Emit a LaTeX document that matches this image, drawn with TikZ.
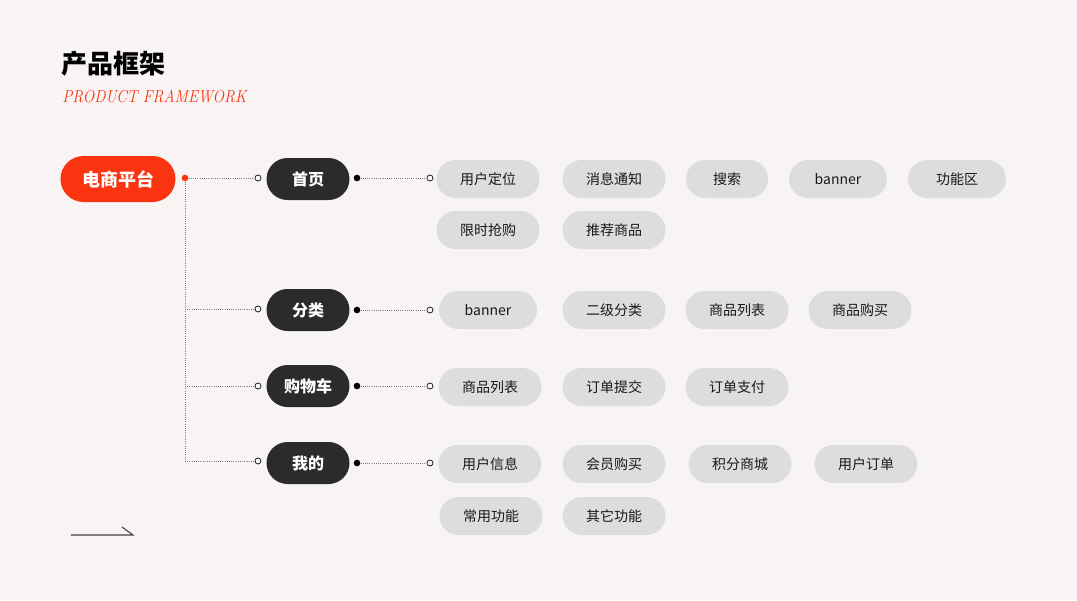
\documentclass[tikz,border=0pt]{standalone}
\usepackage{fontspec}
\newfontfamily\cjk{Noto Sans CJK SC}
\definecolor{bgpink}{RGB}{249,244,244}
\definecolor{brandred}{RGB}{250,52,16}
\definecolor{darkpill}{RGB}{43,43,43}
\definecolor{greypill}{RGB}{220,221,223}
\definecolor{dotgrey}{RGB}{125,125,125}
\usetikzlibrary{positioning}
\tikzset{
  rootpill/.style={fill=brandred, text=white, rounded corners=17.25pt, minimum width=86.25pt, minimum height=34.5pt, font=\cjk\bfseries\fontsize{13.5}{16}\selectfont},
  modpill/.style={fill=darkpill, text=white, rounded corners=15.75pt, minimum width=62.25pt, minimum height=31.5pt, font=\cjk\bfseries\fontsize{12}{14}\selectfont},
  itempill/.style={fill=greypill, text=black!90, rounded corners=14.25pt, minimum width=77.25pt, minimum height=28.5pt, font=\cjk\fontsize{10.5}{12}\selectfont},
  ring/.style={circle, draw=black, line width=0.5pt, fill=bgpink, inner sep=0pt, minimum size=4.5pt},
  knob/.style={circle, fill=black, inner sep=0pt, minimum size=5pt},
  link/.style={draw=dotgrey, line width=0.5pt, dash pattern=on 0.75pt off 0.9pt},
}
\begin{document}
\begin{tikzpicture}[x=0.75pt,y=0.75pt,yscale=-1,xscale=1]
	% background
	\fill [bgpink] (0,0) rectangle (1077,600);
	
	% Title
	\node [anchor=west, inner sep=0pt, font=\cjk\bfseries\fontsize{19.5}{22}\selectfont] (title) at (61,64) {产品框架};
	\node [anchor=west, inner sep=0pt, text=brandred, font=\itshape\fontsize{13}{15}\selectfont] (subtitle) at (62,96) {\scalebox{0.88}[1]{PRODUCT FRAMEWORK}};
	
	% root and hub
	\node [rootpill] (root) at (118,179) {电商平台};
	\node [circle, fill=brandred, inner sep=0pt, minimum size=5pt] (hub) at (185,178) {};
	
	% modules
	\node [modpill] (m0) at (308,179) {首页};
	\node [modpill] (m1) at (308,310) {分类};
	\node [modpill] (m2) at (308,386) {购物车};
	\node [modpill] (m3) at (308,463) {我的};
	
	% rings in front of modules
	\node [ring] (r0) at (258,178) {};
	\node [ring] (r1) at (258,309) {};
	\node [ring] (r2) at (258,386) {};
	\node [ring] (r3) at (258,461) {};
	\coordinate (j1) at (hub |- r1);
	\coordinate (j2) at (hub |- r2);
	\coordinate (j3) at (hub |- r3);
	
	% knobs and rings before item rows
	\node [knob] (k0) at (357,178) {};
	\node [knob] (k1) at (357,310) {};
	\node [knob] (k2) at (357,386) {};
	\node [knob] (k3) at (357,463) {};
	\node [ring] (s0) at (430,178) {};
	\node [ring] (s1) at (430,310) {};
	\node [ring] (s2) at (430,386) {};
	\node [ring] (s3) at (430,463) {};
	
	% tree lines
	\draw [link] (hub) -- (r0);
	\draw [link] (hub) -- (j3);
	\draw [link] (j1) -- (r1);
	\draw [link] (j2) -- (r2);
	\draw [link] (j3) -- (r3);
	\draw [link] (k0) -- (s0);
	\draw [link] (k1) -- (s1);
	\draw [link] (k2) -- (s2);
	\draw [link] (k3) -- (s3);
	
	% 首页
	\node [itempill] (a1) at (488,179) {用户定位};
	\node [itempill] (a2) at (614,179) {消息通知};
	\node [itempill, minimum width=61.5pt] (a3) at (727,179) {搜索};
	\node [itempill, minimum width=73.5pt] (a4) at (838,179) {banner};
	\node [itempill, minimum width=73.5pt] (a5) at (957,179) {功能区};
	\node [itempill] (a6) at (488,230) {限时抢购};
	\node [itempill] (a7) at (614,230) {推荐商品};
	
	% 分类
	\node [itempill, minimum width=73.5pt] (b1) at (488,310) {banner};
	\node [itempill] (b2) at (614,310) {二级分类};
	\node [itempill] (b3) at (737,310) {商品列表};
	\node [itempill] (b4) at (860,310) {商品购买};
	
	% 购物车
	\node [itempill] (c1) at (490,387) {商品列表};
	\node [itempill] (c2) at (614,387) {订单提交};
	\node [itempill] (c3) at (737,387) {订单支付};
	
	% 我的
	\node [itempill] (d1) at (490,464) {用户信息};
	\node [itempill] (d2) at (614,464) {会员购买};
	\node [itempill] (d3) at (740,464) {积分商城};
	\node [itempill] (d4) at (866,464) {用户订单};
	\node [itempill] (d5) at (491,516) {常用功能};
	\node [itempill] (d6) at (614,516) {其它功能};
	
	% arrow mark bottom left
	\draw [black!75, line width=0.8pt] (71,535) -- (133,535) -- (122,527);
\end{tikzpicture}
\end{document}
